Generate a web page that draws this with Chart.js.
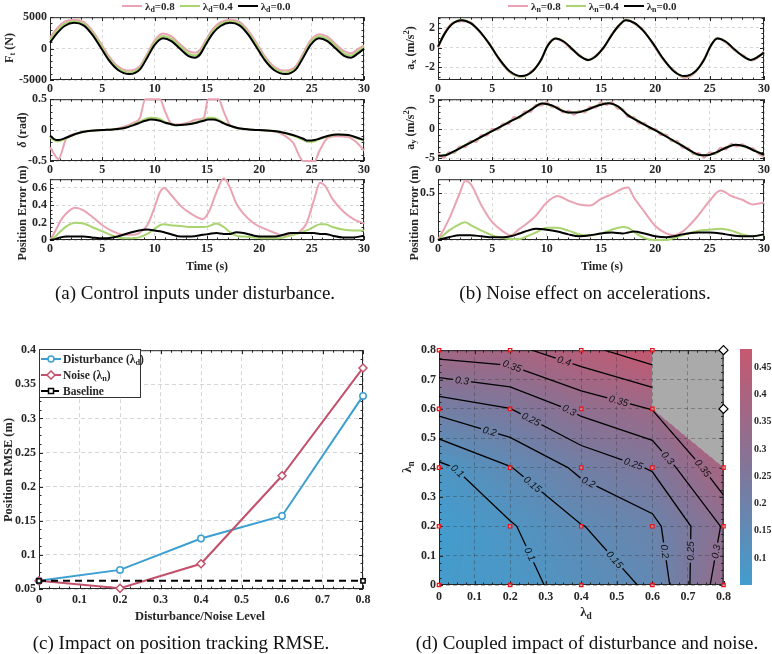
<!DOCTYPE html>
<html>
<head>
<meta charset="utf-8">
<script src="https://cdn.jsdelivr.net/npm/chart.js@4.4.1/dist/chart.umd.min.js"></script>
<style>
  body { margin: 0; width: 772px; height: 654px; position: relative; overflow: hidden; background: #fff;
         font-family: 'Liberation Serif', 'Times New Roman', serif; color: #262626; }
  canvas { position: absolute; }
  .t { position: absolute; white-space: nowrap; transform: translate(-50%, -50%); font-weight: bold; font-size: 12px; }
  .r { transform: translate(-50%, -50%) rotate(-90deg); }
  .cap { position: absolute; white-space: nowrap; transform: translate(-50%, -50%); font-size: 19px; color: #111; }
  sub, sup { font-size: 0.72em; line-height: 0; }
  sub { vertical-align: -0.3em; }
  .leg { position: absolute; display: flex; align-items: center; gap: 3px; transform: translateY(-50%);
         font-weight: bold; font-size: 11px; white-space: nowrap; }
  .leg i { display: inline-block; width: 20px; height: 2.5px; margin-left: 2px; }
  #legC { position: absolute; left: 39px; top: 349px; width: 102px; height: 49px; border: 1px solid #333;
          background: #fff; font-weight: bold; font-size: 11.5px; box-sizing: border-box; }
  #legC div { position: absolute; left: 1px; display: flex; align-items: center; gap: 2px; white-space: nowrap;
              transform: translateY(-50%); }
</style>
</head>
<body>
<canvas id="a1" width="372" height="91" style="left:0;top:7px"></canvas>
<canvas id="a2" width="372" height="90" style="left:0;top:89px"></canvas>
<canvas id="a3" width="372" height="89" style="left:0;top:169px"></canvas>
<canvas id="b1" width="386" height="91" style="left:386px;top:7px"></canvas>
<canvas id="b2" width="386" height="90" style="left:386px;top:89px"></canvas>
<canvas id="b3" width="386" height="89" style="left:386px;top:169px"></canvas>
<canvas id="c" width="386" height="270" style="left:0;top:340px"></canvas>
<canvas id="d" width="350" height="270" style="left:386px;top:340px"></canvas>
<canvas id="cb" width="36" height="260" style="left:736px;top:340px"></canvas>

<div class="leg" style="left:120px;top:6px">
  <i style="background:#e9a3b2"></i><span>λ<sub>d</sub>=0.8</span>
  <i style="background:#a9d46f"></i><span>λ<sub>d</sub>=0.4</span>
  <i style="background:#000"></i><span>λ<sub>d</sub>=0.0</span>
</div>
<div class="leg" style="left:506px;top:6px">
  <i style="background:#e9a3b2"></i><span>λ<sub>n</sub>=0.8</span>
  <i style="background:#a9d46f"></i><span>λ<sub>n</sub>=0.4</span>
  <i style="background:#000"></i><span>λ<sub>n</sub>=0.0</span>
</div>

<div class="t r" style="left:9px;top:48px">F<sub>t</sub> (N)</div>
<div class="t r" style="left:22px;top:130px"><i>δ</i> (rad)</div>
<div class="t r" style="left:22px;top:213px">Position Error (m)</div>
<div class="t" style="left:207px;top:266px">Time (s)</div>
<div class="cap" style="left:195px;top:293px">(a) Control inputs under disturbance.</div>

<div class="t r" style="left:410px;top:48px">a<sub>x</sub> (m/s<sup>2</sup>)</div>
<div class="t r" style="left:410px;top:128px">a<sub>y</sub> (m/s<sup>2</sup>)</div>
<div class="t r" style="left:414px;top:213px">Position Error (m)</div>
<div class="t" style="left:602px;top:266px">Time (s)</div>
<div class="cap" style="left:585px;top:293px">(b) Noise effect on accelerations.</div>

<div id="legC">
  <div style="top:9px"><svg width="20" height="10"><line x1="0" y1="5" x2="20" y2="5" stroke="#3b9fd1" stroke-width="2"/><circle cx="10" cy="5" r="3" fill="#fff" stroke="#3b9fd1" stroke-width="1.5"/></svg><span>Disturbance (λ<sub>d</sub>)</span></div>
  <div style="top:25px"><svg width="20" height="10"><line x1="0" y1="5" x2="20" y2="5" stroke="#c3516b" stroke-width="2"/><path d="M10 1 L14 5 L10 9 L6 5 Z" fill="#fff" stroke="#c3516b" stroke-width="1.5"/></svg><span>Noise (λ<sub>n</sub>)</span></div>
  <div style="top:41px"><svg width="20" height="10"><line x1="0" y1="5" x2="20" y2="5" stroke="#000" stroke-width="2" stroke-dasharray="7 4"/><rect x="7.5" y="2.5" width="5" height="5" fill="#fff" stroke="#000" stroke-width="1.5"/></svg><span>Baseline</span></div>
</div>
<div class="t r" style="left:8px;top:470px;font-size:12.5px">Position RMSE (m)</div>
<div class="t" style="left:200px;top:616px;font-size:12.5px">Disturbance/Noise Level</div>
<div class="cap" style="left:181px;top:643px">(c) Impact on position tracking RMSE.</div>

<div class="t r" style="left:407px;top:467px;font-size:13px">λ<sub>n</sub></div>
<div class="t" style="left:586px;top:612px;font-size:13px">λ<sub>d</sub></div>
<div class="cap" style="left:587px;top:643px">(d) Coupled impact of disturbance and noise.</div>

<script>
// ---------------------------------------------------------------------------
// Data
// ---------------------------------------------------------------------------

// (a) disturbance sweep: thrust, steering, position error
const tForce   = [0,0.7,1.4,2.3,3.2,4,4.8,5.6,6.5,7.6,8.6,9.3,10,10.8,11.6,12.4,13.2,13.85,14.35,14.9,15.6,16.3,17.2,18.1,18.9,19.7,20.5,21.4,22.5,23.5,24.2,24.9,25.7,26.5,27.3,28.1,28.75,29.4,30];
const forceD08 = [1750,3300,4300,4600,4250,2950,1000,-1150,-2850,-3500,-2750,-800,1300,2400,1950,750,-350,-650,-150,1400,3200,4200,4600,4250,2950,1000,-1150,-2850,-3500,-2750,-750,1300,2300,1900,700,-400,-750,-100,500];
const forceD04 = [1350,2900,3950,4350,3950,2600,650,-1500,-3150,-3800,-3050,-1100,950,2000,1550,400,-750,-1100,-550,1050,2850,3900,4350,3950,2600,650,-1500,-3150,-3800,-3050,-1100,950,1950,1550,350,-800,-1100,-450,250];
const forceD00 = [950,2500,3600,4100,3700,2300,300,-1800,-3400,-4050,-3300,-1400,600,1650,1200,0,-1150,-1450,-900,700,2500,3600,4100,3700,2300,300,-1800,-3400,-4050,-3300,-1400,600,1650,1200,0,-1150,-1450,-800,-50];

const tSteer   = [0,0.6,0.8,1.6,2.5,3.5,5,6,7,8,8.6,9.1,9.6,10.5,11,11.5,12,13,14,14.7,15.1,15.6,16.1,16.6,17.2,18,19,20,21,22,23.2,24.2,24.6,25.3,25.7,26.6,27.5,28.5,29.3,30];
const steerD08 = [-0.28,-0.44,-0.47,-0.12,-0.06,-0.02,0,0.01,0.05,0.12,0.2,0.5,0.5,0.5,0.3,0.12,0.09,0.11,0.17,0.2,0.5,0.5,0.5,0.3,0.08,0.03,0.01,0,-0.01,-0.05,-0.2,-0.5,-0.5,-0.5,-0.35,-0.12,-0.1,-0.11,-0.2,-0.33];
const steerD04 = [-0.12,-0.18,-0.18,-0.13,-0.06,-0.02,0,0.01,0.03,0.09,0.14,0.18,0.2,0.18,0.13,0.1,0.08,0.09,0.13,0.17,0.2,0.2,0.17,0.12,0.07,0.03,0.01,0,-0.01,-0.03,-0.09,-0.16,-0.19,-0.18,-0.15,-0.1,-0.07,-0.08,-0.13,-0.17];
const steerD00 = [-0.09,-0.16,-0.16,-0.12,-0.06,-0.02,0,0.01,0.03,0.08,0.12,0.15,0.17,0.15,0.12,0.1,0.08,0.09,0.12,0.15,0.17,0.17,0.15,0.11,0.07,0.03,0.01,0,-0.01,-0.03,-0.08,-0.14,-0.17,-0.16,-0.14,-0.09,-0.07,-0.08,-0.12,-0.16];

const tErrA  = [0,0.5,1,1.6,2.4,3.2,4,5,6,7,7.8,8.5,9.3,10,10.5,10.9,11.5,12.5,13.5,14.6,15.2,15.9,16.6,17.2,17.8,18.5,19.5,20.5,21.5,22.3,23,23.8,24.5,25.2,25.8,26.3,27,28,29,30];
const errD08 = [0,0.1,0.22,0.31,0.37,0.34,0.27,0.17,0.1,0.06,0.06,0.08,0.17,0.38,0.55,0.6,0.53,0.39,0.3,0.24,0.33,0.55,0.71,0.6,0.42,0.3,0.19,0.13,0.08,0.05,0.06,0.09,0.19,0.45,0.66,0.62,0.47,0.33,0.24,0.19];
const errD04 = [0,0.04,0.1,0.16,0.2,0.19,0.15,0.1,0.05,0.02,0.02,0.03,0.07,0.13,0.17,0.18,0.17,0.16,0.15,0.15,0.16,0.19,0.15,0.09,0.05,0.04,0.03,0.02,0.02,0.03,0.05,0.08,0.11,0.15,0.18,0.18,0.15,0.12,0.11,0.11];
const errD00 = [0,0.01,0.03,0.04,0.04,0.04,0.03,0.02,0.03,0.06,0.09,0.11,0.12,0.11,0.1,0.09,0.07,0.04,0.04,0.06,0.07,0.08,0.07,0.07,0.09,0.08,0.05,0.04,0.04,0.06,0.08,0.08,0.08,0.08,0.07,0.07,0.05,0.03,0.03,0.05];

// (b) noise sweep: accelerations, position error
const tAccX   = [0,0.6,1.3,2.2,3,3.8,4.7,5.6,6.6,7.7,8.7,9.5,10.1,10.8,11.6,12.4,13.1,13.8,14.5,15.3,16,16.6,17.3,18.1,18.9,19.8,20.7,21.7,22.7,23.7,24.5,25.1,25.7,26.5,27.3,28.1,28.8,29.5,30];
const accXN08 = [0,1.5,2.5,2.7,2.6,1.6,0.5,-1.2,-2.5,-3,-2.3,-1.3,0.3,0.9,0.5,-0.3,-0.8,-1.3,-0.8,0,1.4,2.1,2.9,2.4,1.8,0.3,-1.2,-2.3,-3.1,-2.5,-1.1,0.1,1,0.5,-0.3,-0.8,-1.3,-1,-0.4];
const accXN04 = [0.1,1.4,2.4,2.85,2.5,1.7,0.4,-1.1,-2.45,-2.95,-2.4,-1.2,0.2,0.95,0.6,-0.2,-0.9,-1.25,-0.9,0.1,1.3,2.2,2.85,2.5,1.7,0.4,-1.1,-2.4,-2.95,-2.4,-1.2,0.2,0.95,0.6,-0.2,-0.9,-1.25,-0.9,-0.5];
const accXN00 = [0.1,1.4,2.4,2.8,2.5,1.7,0.4,-1.1,-2.4,-2.9,-2.4,-1.2,0.2,0.93,0.6,-0.2,-0.9,-1.25,-0.9,0.1,1.3,2.2,2.8,2.5,1.7,0.4,-1.1,-2.4,-2.9,-2.4,-1.2,0.2,0.93,0.6,-0.2,-0.9,-1.25,-0.9,-0.5];

const tAccYNoisy = [0,0.5,1,1.5,2,2.5,3,3.5,4,4.5,5,5.5,6,6.5,7,7.5,8,8.5,9,9.5,10,10.5,11,11.5,12,12.5,13,13.5,14,14.5,15,15.5,16,16.5,17,17.5,18,18.5,19,19.5,20,20.5,21,21.5,22,22.5,23,23.5,24,24.5,25,25.5,26,26.5,27,27.5,28,28.5,29,29.5,30];
const accYN08 = [-4.2,-5,-4,-4.1,-3,-3.1,-2,-2.2,-1,-1.1,0.1,-0.1,1,0.9,2.1,1.9,3.1,3,4.2,4.1,4.7,3.8,3.9,2.9,3.2,2.5,3.2,2.9,3.9,3.7,4.7,4.2,4.7,3.6,3.5,2.1,2.1,1,1.1,0,0.1,-1,-0.9,-2.1,-2,-3.2,-3.2,-4.3,-4.1,-4.9,-4,-4.3,-3.2,-3.5,-2.5,-3,-2.6,-3.3,-3.3,-4.3,-4.8];
const tAccY   = [0,0.7,1.5,2.5,3.5,4.5,5.5,6.5,7.5,8.5,9.6,10.5,11.3,12,12.8,13.6,14.6,15.7,16.6,17.5,18.5,19.5,20.5,21.5,22.5,23.3,24,24.8,25.6,26.5,27.4,28.3,29.2,30];
const accYN04 = [-4.7,-4.4,-3.9,-2.7,-1.9,-0.7,0.1,1.3,2.1,3.4,4.5,4,3.4,2.8,3,3.2,4.1,4.55,3.8,2.5,1.4,0.2,-0.6,-1.9,-2.8,-3.9,-4.5,-4.4,-4.1,-3.1,-2.7,-3.1,-3.7,-4.5];
const accYN00 = [-4.6,-4.5,-3.8,-2.8,-1.8,-0.8,0.2,1.2,2.2,3.3,4.45,4.1,3.3,2.9,2.9,3.3,4,4.5,3.9,2.4,1.3,0.3,-0.7,-1.8,-2.9,-3.8,-4.4,-4.5,-4,-3.2,-2.7,-3,-3.8,-4.4];

const tErrB  = [0,1,2,2.5,3,4,5,6,6.7,7.5,8,9,10,11,12,13,14,15,16,17,17.5,18,19,20,21,21.7,22.5,23,24,25,26,27,28,29,30];
const errN08 = [0,0.22,0.5,0.63,0.6,0.37,0.19,0.09,0.05,0.12,0.16,0.26,0.4,0.47,0.42,0.38,0.37,0.44,0.49,0.55,0.56,0.46,0.3,0.15,0.07,0.05,0.09,0.14,0.27,0.42,0.53,0.47,0.43,0.38,0.4];
const errN04 = [0,0.1,0.17,0.19,0.16,0.1,0.05,0.02,0.01,0.01,0.03,0.08,0.13,0.13,0.1,0.06,0.05,0.07,0.11,0.14,0.13,0.09,0.02,0,0,0.02,0.05,0.07,0.1,0.11,0.12,0.1,0.06,0.04,0.06];
const errN00 = [0,0.03,0.05,0.05,0.05,0.04,0.03,0.03,0.04,0.07,0.09,0.12,0.11,0.09,0.06,0.04,0.05,0.07,0.08,0.07,0.08,0.09,0.07,0.04,0.03,0.04,0.06,0.07,0.08,0.08,0.07,0.05,0.04,0.04,0.06];

// (c) RMSE against level
const levels    = [0, 0.2, 0.4, 0.6, 0.8];
const rmseDist  = [0.062, 0.078, 0.124, 0.157, 0.333];
const rmseNoise = [0.062, 0.051, 0.087, 0.216, 0.374];
const baseX     = [0, 0.8];
const baseRmse  = [0.062, 0.062];

// (d) coupled sweep — rows are λn, columns λd; null = no run (grey)
const lamD = [0, 0.2, 0.4, 0.6, 0.8];
const lamN = [0, 0.2, 0.4, 0.6, 0.8];
const rmseGrid = [
  [0.062, 0.078, 0.124, 0.157, 0.333],
  [0.051, 0.095, 0.148, 0.185, 0.305],
  [0.087, 0.148, 0.212, 0.255, 0.390],
  [0.216, 0.249, 0.313, 0.352, null ],
  [0.374, 0.385, 0.434, 0.483, null ],
];
const contourLevels = [0.1, 0.15, 0.2, 0.25, 0.3, 0.35, 0.4, 0.45];

// ---------------------------------------------------------------------------
// Shared styling
// ---------------------------------------------------------------------------
const FONT  = "'Liberation Serif', 'Times New Roman', serif";
const TICK  = { family: FONT, size: 12, weight: 'bold' };
const INK   = '#262626';
const GRID  = '#d6d6d6';
const PINK  = '#e9a3b2';
const GREEN = '#a9d46f';
const BLUE  = '#3b9fd1';
const RED   = '#c3516b';
const fmt = v => String(Math.round(v * 1000) / 1000);

// box around the axes with inward major/minor ticks, like the MATLAB figure
const boxPlugin = {
  id: 'box',
  beforeDatasetsDraw(chart, args, o) {
    const { ctx, chartArea: a, scales } = chart;
    ctx.save();
    ctx.strokeStyle = INK;
    ctx.lineWidth = 1;
    ctx.strokeRect(a.left + 0.5, a.top + 0.5, a.width - 1, a.height - 1);
    const run = (scale, minor, major, draw) => {
      if (!minor || !scale) return;
      const k0 = Math.ceil(scale.min / minor - 1e-6), k1 = Math.floor(scale.max / minor + 1e-6);
      for (let k = k0; k <= k1; k++) {
        const r = (k * minor) / major;
        const len = Math.abs(r - Math.round(r)) < 1e-6 ? 4 : 2.5;
        draw(Math.round(scale.getPixelForValue(k * minor)) + 0.5, len);
      }
    };
    ctx.beginPath();
    run(scales.x, o.xMinor, o.xMajor, (p, len) => {
      ctx.moveTo(p, a.bottom); ctx.lineTo(p, a.bottom - len);
      ctx.moveTo(p, a.top);    ctx.lineTo(p, a.top + len);
    });
    run(scales.y, o.yMinor, o.yMajor, (p, len) => {
      if (!o.rightOnly) { ctx.moveTo(a.left, p); ctx.lineTo(a.left + len, p); }
      ctx.moveTo(a.right, p); ctx.lineTo(a.right - len, p);
    });
    ctx.stroke();
    ctx.restore();
  }
};
Chart.register(boxPlugin);

// ---------------------------------------------------------------------------
// (a) and (b): time series subplots
// ---------------------------------------------------------------------------
function timeChart(id, series, y, box) {
  return new Chart(document.getElementById(id), {
    type: 'line',
    data: {
      datasets: series.map(s => ({
        data: s.t.map((x, i) => ({ x, y: s.v[i] })),
        borderColor: s.c,
        borderWidth: 2,
        pointRadius: 0,
        cubicInterpolationMode: 'monotone',
        clip: 2,
      })),
    },
    options: {
      responsive: false, animation: false, events: [],
      layout: { padding: { top: 9, right: y.padR, left: 0, bottom: 0 } },
      plugins: { legend: { display: false }, tooltip: { enabled: false }, box },
      scales: {
        x: {
          type: 'linear', min: 0, max: 30,
          ticks: { stepSize: 5, font: TICK, color: INK, padding: 2, maxRotation: 0, autoSkip: false, callback: fmt },
          grid: { color: GRID, drawTicks: false },
          border: { display: false, dash: [3, 3] },
          afterFit: s => { s.height = 18; },
        },
        y: {
          min: y.min, max: y.max,
          ticks: { stepSize: y.step, includeBounds: false, font: TICK, color: INK, padding: 3, callback: fmt },
          grid: { color: GRID, drawTicks: false },
          border: { display: false, dash: [3, 3] },
          afterFit: s => { s.width = y.w; },
        },
      },
    },
  });
}

timeChart('a1', [
  { t: tForce, v: forceD00, c: '#000' },
  { t: tForce, v: forceD04, c: GREEN },
  { t: tForce, v: forceD08, c: PINK },
], { min: -5000, max: 5000, step: 5000, w: 50, padR: 8 }, { xMinor: 1, xMajor: 5, yMinor: 1000, yMajor: 5000 });

timeChart('a2', [
  { t: tSteer, v: steerD00, c: '#000' },
  { t: tSteer, v: steerD04, c: GREEN },
  { t: tSteer, v: steerD08, c: PINK },
], { min: -0.5, max: 0.5, step: 0.5, w: 50, padR: 8 }, { xMinor: 1, xMajor: 5, yMinor: 0.1, yMajor: 0.5 });

timeChart('a3', [
  { t: tErrA, v: errD00, c: '#000' },
  { t: tErrA, v: errD04, c: GREEN },
  { t: tErrA, v: errD08, c: PINK },
], { min: 0, max: 0.7, step: 0.2, w: 50, padR: 8 }, { xMinor: 1, xMajor: 5, yMinor: 0.05, yMajor: 0.2 });

timeChart('b1', [
  { t: tAccX, v: accXN00, c: '#000' },
  { t: tAccX, v: accXN04, c: GREEN },
  { t: tAccX, v: accXN08, c: PINK },
], { min: -3.3, max: 3.1, step: 2, w: 52, padR: 6 }, { xMinor: 1, xMajor: 5, yMinor: 0.5, yMajor: 2 });

timeChart('b2', [
  { t: tAccY, v: accYN00, c: '#000' },
  { t: tAccY, v: accYN04, c: GREEN },
  { t: tAccYNoisy, v: accYN08, c: PINK },
], { min: -5.5, max: 5.2, step: 5, w: 52, padR: 6 }, { xMinor: 1, xMajor: 5, yMinor: 1, yMajor: 5 });

timeChart('b3', [
  { t: tErrB, v: errN00, c: '#000' },
  { t: tErrB, v: errN04, c: GREEN },
  { t: tErrB, v: errN08, c: PINK },
], { min: 0, max: 0.65, step: 0.5, w: 52, padR: 6 }, { xMinor: 1, xMajor: 5, yMinor: 0.1, yMajor: 0.5 });

// ---------------------------------------------------------------------------
// (c) RMSE vs level
// ---------------------------------------------------------------------------
new Chart(document.getElementById('c'), {
  type: 'line',
  data: {
    datasets: [
      {
        data: baseX.map((x, i) => ({ x, y: baseRmse[i] })),
        borderColor: '#000', borderWidth: 2, borderDash: [7, 5],
        pointStyle: 'rect', pointRadius: 3, pointBorderWidth: 1.5,
        pointBackgroundColor: '#fff', pointBorderColor: '#000', clip: false,
      },
      {
        data: levels.map((x, i) => ({ x, y: rmseNoise[i] })),
        borderColor: RED, borderWidth: 2,
        pointStyle: 'rectRot', pointRadius: 4, pointBorderWidth: 1.5,
        pointBackgroundColor: '#fff', pointBorderColor: RED, clip: false,
      },
      {
        data: levels.map((x, i) => ({ x, y: rmseDist[i] })),
        borderColor: BLUE, borderWidth: 2,
        pointStyle: 'circle', pointRadius: 3.2, pointBorderWidth: 1.5,
        pointBackgroundColor: '#fff', pointBorderColor: BLUE, clip: false,
      },
    ],
  },
  options: {
    responsive: false, animation: false, events: [],
    layout: { padding: { top: 9, right: 23, left: 0, bottom: 0 } },
    plugins: { legend: { display: false }, tooltip: { enabled: false },
               box: { xMinor: 0.025, xMajor: 0.1, yMinor: 0.0125, yMajor: 0.05 } },
    scales: {
      x: {
        type: 'linear', min: 0, max: 0.8,
        ticks: { stepSize: 0.1, font: TICK, color: INK, padding: 4, maxRotation: 0, autoSkip: false, callback: fmt },
        grid: { color: GRID, drawTicks: false },
        border: { display: false, dash: [4, 3] },
        afterFit: s => { s.height = 21; },
      },
      y: {
        min: 0.05, max: 0.4,
        ticks: { stepSize: 0.05, font: TICK, color: INK, padding: 3, callback: fmt },
        grid: { color: GRID, drawTicks: false },
        border: { display: false, dash: [4, 3] },
        afterFit: s => { s.width = 39; },
      },
    },
  },
});

// ---------------------------------------------------------------------------
// (d) filled contour of the coupled sweep
// ---------------------------------------------------------------------------
const zValues = rmseGrid.flat().filter(v => v !== null);
const zMin = Math.min(...zValues), zMax = Math.max(...zValues);
const CMAP = [[66, 157, 206], [130, 117, 152], [197, 88, 112]];
const NAN_RGB = [170, 170, 170];

function cmap(v) {
  let t = (v - zMin) / (zMax - zMin);
  t = Math.max(0, Math.min(1, t)) * (CMAP.length - 1);
  const k = Math.min(CMAP.length - 2, Math.floor(t)), f = t - k;
  return CMAP[k].map((c, m) => Math.round(c + f * (CMAP[k + 1][m] - c)));
}

function cellOf(axis, v) {
  let i = 0;
  while (i < axis.length - 2 && v > axis[i + 1]) i++;
  const u = Math.max(0, Math.min(1, (v - axis[i]) / (axis[i + 1] - axis[i])));
  return [i, u];
}

// bilinear inside full cells, linear on the remaining triangle when one corner is missing
function gridValue(x, y) {
  const [i, u] = cellOf(lamD, x), [j, v] = cellOf(lamN, y);
  const a = rmseGrid[j][i], b = rmseGrid[j][i + 1], c = rmseGrid[j + 1][i + 1], d = rmseGrid[j + 1][i];
  const miss = [a, b, c, d].filter(q => q === null).length;
  if (miss === 0) return a * (1 - u) * (1 - v) + b * u * (1 - v) + c * u * v + d * (1 - u) * v;
  if (miss > 1) return null;
  if (c === null) return u + v <= 1 ? a + u * (b - a) + v * (d - a) : null;
  if (a === null) return u + v >= 1 ? c + (1 - u) * (d - c) + (1 - v) * (b - c) : null;
  if (b === null) return v >= u ? d + u * (c - d) + (1 - v) * (a - d) : null;
  return u >= v ? b + (1 - u) * (a - b) + v * (c - b) : null;
}

// marching squares (triangles where a corner is missing), chained into polylines
function contourLines(level) {
  const pos = {}, segs = [];
  for (let j = 0; j < lamN.length - 1; j++) {
    for (let i = 0; i < lamD.length - 1; i++) {
      const P = [[i, j], [i + 1, j], [i + 1, j + 1], [i, j + 1]]
        .map(([p, q]) => ({ x: lamD[p], y: lamN[q], z: rmseGrid[q][p] }));
      const ids = [`h${i}_${j}`, `v${i + 1}_${j}`, `h${i}_${j + 1}`, `v${i}_${j}`];
      const poly = [0, 1, 2, 3].filter(k => P[k].z !== null);
      if (poly.length < 3) continue;
      const hits = [];
      poly.forEach((p, k) => {
        const q = poly[(k + 1) % poly.length];
        const id = (q - p + 4) % 4 === 1 ? ids[p] : (p - q + 4) % 4 === 1 ? ids[q] : `d${i}_${j}`;
        const zp = P[p].z - level, zq = P[q].z - level;
        if (zp * zq < 0) {
          const t = zp / (zp - zq);
          pos[id] = { x: P[p].x + t * (P[q].x - P[p].x), y: P[p].y + t * (P[q].y - P[p].y) };
          hits.push(id);
        }
      });
      if (hits.length === 2) segs.push(hits);
      else if (hits.length === 4) {
        const centre = P.reduce((s, p) => s + p.z, 0) / 4 - level;
        if (centre * (P[0].z - level) > 0) segs.push([hits[0], hits[1]], [hits[2], hits[3]]);
        else segs.push([hits[3], hits[0]], [hits[1], hits[2]]);
      }
    }
  }
  const adj = {};
  segs.forEach((s, k) => s.forEach(id => (adj[id] = adj[id] || []).push(k)));
  const used = segs.map(() => false);
  const lines = [];
  const starts = Object.keys(adj).filter(id => adj[id].length === 1).concat(Object.keys(adj));
  starts.forEach(id => {
    let k = adj[id].find(m => !used[m]);
    if (k === undefined) return;
    const chain = [id];
    let cur = id;
    while (k !== undefined) {
      used[k] = true;
      cur = segs[k][0] === cur ? segs[k][1] : segs[k][0];
      chain.push(cur);
      k = adj[cur].find(m => !used[m]);
    }
    lines.push(chain.map(e => pos[e]));
  });
  return lines;
}

const heatPlugin = {
  id: 'heat',
  beforeDraw(chart) {
    const { ctx, chartArea: a, scales: { x, y } } = chart;
    const w = Math.round(a.width), h = Math.round(a.height);
    const off = document.createElement('canvas');
    off.width = w; off.height = h;
    const octx = off.getContext('2d');
    const img = octx.createImageData(w, h);
    for (let py = 0; py < h; py++) {
      for (let px = 0; px < w; px++) {
        const v = gridValue(x.getValueForPixel(a.left + px + 0.5), y.getValueForPixel(a.top + py + 0.5));
        const c = v === null ? NAN_RGB : cmap(v);
        const o = (py * w + px) * 4;
        img.data[o] = c[0]; img.data[o + 1] = c[1]; img.data[o + 2] = c[2]; img.data[o + 3] = 255;
      }
    }
    octx.putImageData(img, 0, 0);
    ctx.drawImage(off, a.left, a.top);
  },
  afterDatasetsDraw(chart) {
    const { ctx, scales: { x, y } } = chart;
    ctx.save();
    ctx.font = "italic 10px 'Liberation Sans', Arial, sans-serif";
    ctx.textAlign = 'center';
    ctx.textBaseline = 'middle';
    chart.data.datasets.forEach(ds => {
      if (ds.level === undefined) return;
      const pts = ds.data.map(p => [x.getPixelForValue(p.x), y.getPixelForValue(p.y)]);
      const seg = [];
      let total = 0;
      for (let k = 1; k < pts.length; k++) {
        const d = Math.hypot(pts[k][0] - pts[k - 1][0], pts[k][1] - pts[k - 1][1]);
        seg.push(d); total += d;
      }
      if (total < 40) return;
      const text = fmt(ds.level);
      const [r, g, b] = cmap(ds.level);
      for (let s = 34; s < total - 18; s += 112) {
        let k = 0, acc = 0;
        while (k < seg.length - 1 && acc + seg[k] < s) { acc += seg[k]; k++; }
        const f = (s - acc) / seg[k];
        const px = pts[k][0] + f * (pts[k + 1][0] - pts[k][0]);
        const py = pts[k][1] + f * (pts[k + 1][1] - pts[k][1]);
        let ang = Math.atan2(pts[k + 1][1] - pts[k][1], pts[k + 1][0] - pts[k][0]);
        if (ang > Math.PI / 2) ang -= Math.PI;
        if (ang < -Math.PI / 2) ang += Math.PI;
        const tw = ctx.measureText(text).width;
        ctx.save();
        ctx.translate(px, py);
        ctx.rotate(ang);
        ctx.fillStyle = `rgb(${r},${g},${b})`;
        ctx.fillRect(-tw / 2 - 2, -5, tw + 4, 10);
        ctx.fillStyle = '#111';
        ctx.fillText(text, 0, 0.5);
        ctx.restore();
      }
    });
    ctx.restore();
  },
};

const contourSets = [];
contourLevels.forEach(level => {
  contourLines(level).forEach(line => contourSets.push({
    level, data: line, showLine: true, borderColor: '#000', borderWidth: 1.3,
    pointRadius: 0, tension: 0,
  }));
});

const sampled = [], missing = [];
lamN.forEach((yv, j) => lamD.forEach((xv, i) => {
  (rmseGrid[j][i] === null ? missing : sampled).push({ x: xv, y: yv });
}));

new Chart(document.getElementById('d'), {
  type: 'scatter',
  data: {
    datasets: [
      { data: missing, pointStyle: 'rectRot', pointRadius: 4.5, pointBorderWidth: 1.2,
        pointBackgroundColor: '#fff', pointBorderColor: '#000', clip: false },
      { data: sampled, pointStyle: 'rect', pointRadius: 2.4, pointBorderWidth: 1.2,
        pointBackgroundColor: 'rgba(255,200,200,0.5)', pointBorderColor: '#e8141c', clip: false },
      ...contourSets,
    ],
  },
  plugins: [heatPlugin],
  options: {
    responsive: false, animation: false, events: [],
    layout: { padding: { top: 9, right: 8, left: 0, bottom: 0 } },
    plugins: { legend: { display: false }, tooltip: { enabled: false },
               box: { xMinor: 0.025, xMajor: 0.1, yMinor: 0.025, yMajor: 0.1 } },
    scales: {
      x: {
        type: 'linear', min: 0, max: 0.8,
        ticks: { stepSize: 0.1, font: TICK, color: INK, padding: 5, maxRotation: 0, autoSkip: false, callback: fmt },
        grid: { color: 'rgba(50,50,50,0.35)', drawTicks: false },
        border: { display: false, dash: [4, 3] },
        afterFit: s => { s.height = 25; },
      },
      y: {
        min: 0, max: 0.8,
        ticks: { stepSize: 0.1, font: TICK, color: INK, padding: 3, autoSkip: false, callback: fmt },
        grid: { color: 'rgba(50,50,50,0.35)', drawTicks: false },
        border: { display: false, dash: [4, 3] },
        afterFit: s => { s.width = 53; },
      },
    },
  },
});

// colour bar
new Chart(document.getElementById('cb'), {
  type: 'scatter',
  data: { datasets: [] },
  plugins: [{
    id: 'bar',
    beforeDatasetsDraw(chart) {
      const { ctx, chartArea: a, scales: { y } } = chart;
      for (let py = Math.floor(a.top); py < a.bottom; py++) {
        const [r, g, b] = cmap(y.getValueForPixel(py + 0.5));
        ctx.fillStyle = `rgb(${r},${g},${b})`;
        ctx.fillRect(a.left, py, a.width, 1);
      }
    },
  }],
  options: {
    responsive: false, animation: false, events: [],
    layout: { padding: { top: 9, right: 0, left: 4, bottom: 15 } },
    plugins: { legend: { display: false }, tooltip: { enabled: false },
               box: { yMinor: 0.05, yMajor: 0.05, rightOnly: true } },
    scales: {
      x: { type: 'linear', display: false, min: 0, max: 1 },
      y: {
        position: 'right', min: zMin, max: zMax,
        ticks: { stepSize: 0.05, includeBounds: false, font: { family: FONT, size: 10, weight: 'bold' },
                 color: INK, padding: 2, callback: fmt },
        grid: { display: false, drawTicks: false },
        border: { display: false },
        afterFit: s => { s.width = 20; },
      },
    },
  },
});
</script>
</body>
</html>
